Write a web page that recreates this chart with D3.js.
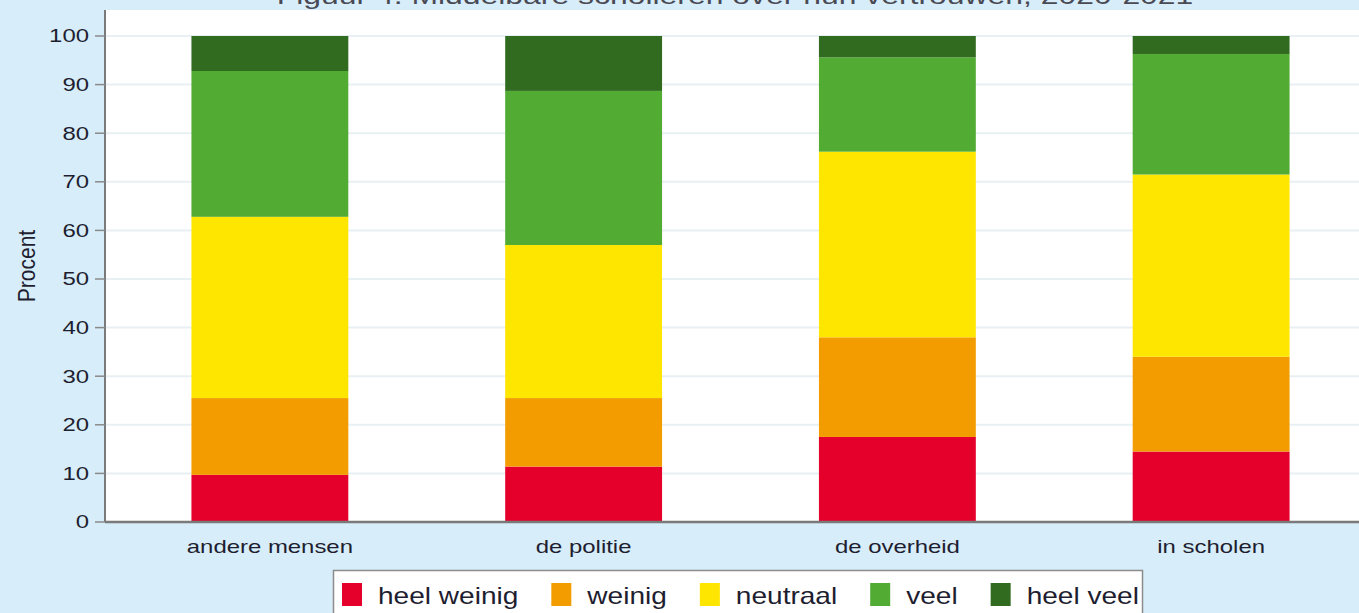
<!DOCTYPE html>
<html>
<head>
<meta charset="utf-8">
<script src="https://cdn.jsdelivr.net/npm/d3@7"></script>
<style>
  body { margin: 0; background: #d7edf9; }
  svg { display: block; font-family: "Liberation Sans", Arial, sans-serif; }
</style>
</head>
<body>
<svg id="chart" width="1359" height="613"></svg>
<script>
// data (percent per category)
const categories = ['andere mensen', 'de politie', 'de overheid', 'in scholen'];
const levels = ['heel weinig', 'weinig', 'neutraal', 'veel', 'heel veel'];
const heelWeinig = [9.7, 11.4, 17.5, 14.5];
const weinig = [15.8, 14.1, 20.5, 19.5];
const neutraal = [37.3, 31.5, 38.2, 37.5];
const veel = [30.0, 31.7, 19.4, 24.8];
const heelVeel = [7.2, 11.3, 4.4, 3.7];
const yTicks = [0, 10, 20, 30, 40, 50, 60, 70, 80, 90, 100];
const colors = ['#e4002b', '#f39c00', '#ffe600', '#52ab32', '#316b20'];
const title = 'Figuur 4. Middelbare scholieren over hun vertrouwen, 2020-2021';

const series = [heelWeinig, weinig, neutraal, veel, heelVeel];
const rows = categories.map((c, i) => {
  const row = { cat: c };
  levels.forEach((l, j) => { row[l] = series[j][i]; });
  return row;
});

const W = 1359, H = 613;
const margin = { top: 10, right: 0, bottom: 91, left: 105 };
const textColor = '#1e1e30';
const sx = 1.33; // the reference text is drawn wide

const svg = d3.select('#chart');

// bands run a little past the right edge, as in the reference
const x = d3.scaleBand()
  .domain(categories)
  .range([margin.left + 8, W + 9])
  .paddingInner(0.5)
  .paddingOuter(0.25);

const y = d3.scaleLinear()
  .domain([0, 100])
  .range([H - margin.bottom, 36]);

// title, mostly cut off at the top
svg.append('text')
  .attr('transform', 'translate(735,4) scale(' + sx + ',1)')
  .attr('text-anchor', 'middle')
  .attr('font-size', 24)
  .attr('fill', '#4a4a55')
  .text(title);

// plot background
svg.append('rect')
  .attr('x', margin.left)
  .attr('y', margin.top)
  .attr('width', W - margin.right - margin.left)
  .attr('height', H - margin.bottom - margin.top)
  .attr('fill', '#ffffff');

// gridlines
svg.append('g')
  .selectAll('line')
  .data(yTicks.filter(d => d > 0))
  .enter().append('line')
  .attr('x1', margin.left)
  .attr('x2', W - margin.right)
  .attr('y1', d => y(d))
  .attr('y2', d => y(d))
  .attr('stroke', '#e8f0f3')
  .attr('stroke-width', 2);

// stacked bars
const stack = d3.stack().keys(levels);
const layers = stack(rows);

svg.append('g')
  .selectAll('g')
  .data(layers)
  .enter().append('g')
  .attr('fill', (d, i) => colors[i])
  .selectAll('rect')
  .data(d => d)
  .enter().append('rect')
  .attr('x', d => x(d.data.cat))
  .attr('width', x.bandwidth())
  .attr('y', d => y(d[1]))
  .attr('height', d => y(d[0]) - y(d[1]));

// y axis
const yAxis = svg.append('g');
yAxis.append('line')
  .attr('x1', margin.left).attr('x2', margin.left)
  .attr('y1', margin.top).attr('y2', y(0))
  .attr('stroke', '#7a7a7a')
  .attr('stroke-width', 2);

const yt = yAxis.selectAll('g.tick')
  .data(yTicks)
  .enter().append('g')
  .attr('class', 'tick');
yt.append('line')
  .attr('x1', margin.left - 10).attr('x2', margin.left)
  .attr('y1', d => y(d)).attr('y2', d => y(d))
  .attr('stroke', '#8a8a8a')
  .attr('stroke-width', 1.5);
yt.append('text')
  .attr('transform', d => 'translate(89,' + y(d) + ') scale(' + sx + ',1)')
  .attr('dy', '0.36em')
  .attr('text-anchor', 'end')
  .attr('font-size', 18)
  .attr('fill', textColor)
  .text(d => d);

svg.append('text')
  .attr('transform', 'translate(35,266) rotate(-90) scale(1,1.15)')
  .attr('text-anchor', 'middle')
  .attr('font-size', 21)
  .attr('fill', textColor)
  .text('Procent');

// x axis
svg.append('line')
  .attr('x1', margin.left).attr('x2', W)
  .attr('y1', y(0)).attr('y2', y(0))
  .attr('stroke', '#7a7a7a')
  .attr('stroke-width', 2.5);

svg.append('g')
  .selectAll('text')
  .data(categories)
  .enter().append('text')
  .attr('transform', d => 'translate(' + (x(d) + x.bandwidth() / 2) + ',553) scale(' + sx + ',1)')
  .attr('text-anchor', 'middle')
  .attr('font-size', 18)
  .attr('fill', textColor)
  .text(d => d);

// legend
const legend = svg.append('g');
legend.append('rect')
  .attr('x', 333.5)
  .attr('y', 570.5)
  .attr('width', 809)
  .attr('height', 60)
  .attr('fill', '#ffffff')
  .attr('stroke', '#8c8c8c')
  .attr('stroke-width', 1.5);

const lsx = 1.22;
let lx = 342;
levels.forEach((l, i) => {
  legend.append('rect')
    .attr('x', lx)
    .attr('y', 583)
    .attr('width', 20)
    .attr('height', 23)
    .attr('fill', colors[i]);
  const t = legend.append('text')
    .attr('transform', 'translate(' + (lx + 36) + ',604) scale(' + lsx + ',1)')
    .attr('font-size', 23)
    .attr('fill', textColor)
    .text(l);
  lx += 36 + t.node().getComputedTextLength() * lsx + 33;
});
</script>
</body>
</html>
